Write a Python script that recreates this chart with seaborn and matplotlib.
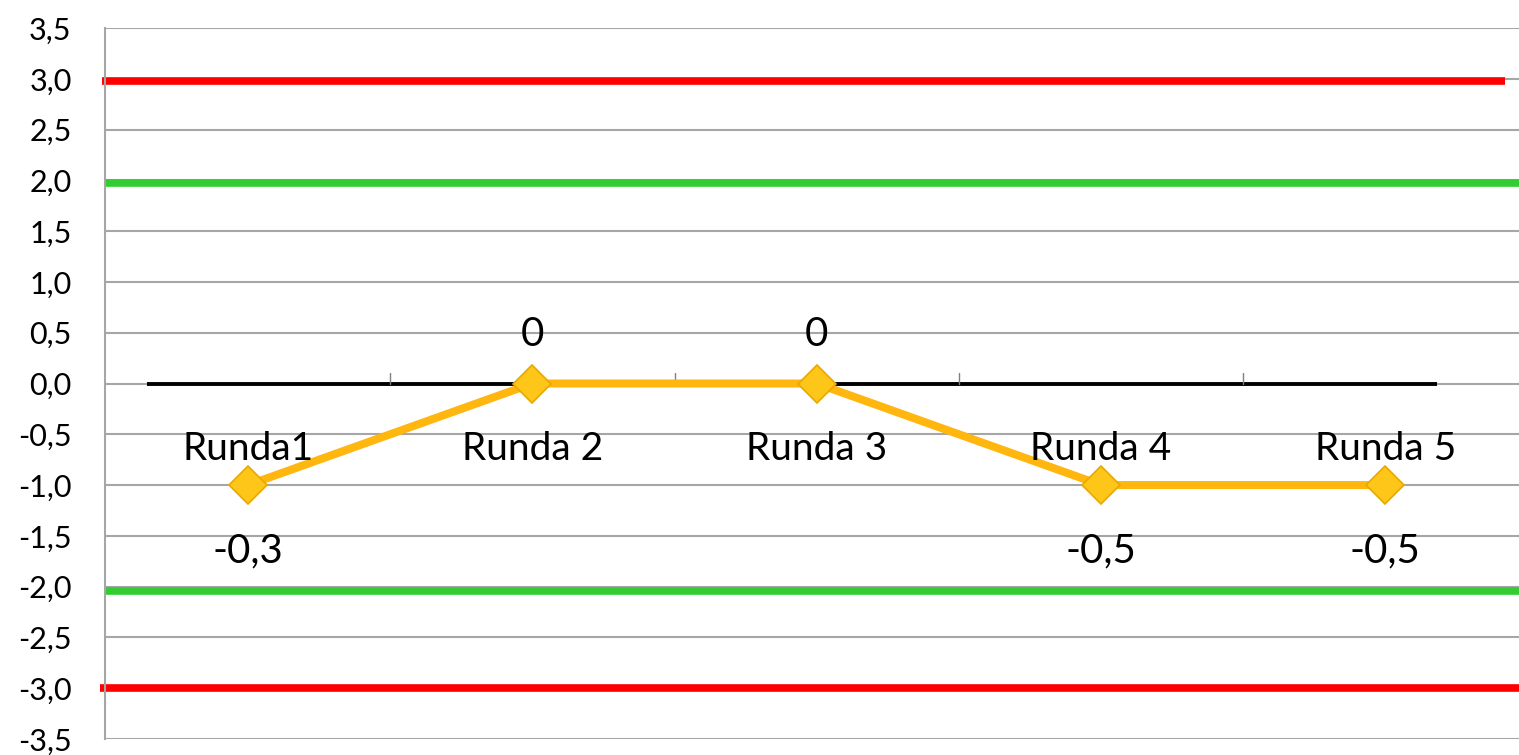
import numpy as np
import pandas as pd
import seaborn as sns
import matplotlib.pyplot as plt
from matplotlib.ticker import FuncFormatter, MultipleLocator

# Data
rounds = ['Runda1', 'Runda 2', 'Runda 3', 'Runda 4', 'Runda 5']
scores = [-1.0, 0.0, 0.0, -1.0, -1.0]
point_labels = ['-0,3', '0', '0', '-0,5', '-0,5']
red_limits = [2.98, -3.0]
green_limits = [1.97, -2.04]

df = pd.DataFrame({'pos': np.arange(len(rounds)), 'score': scores, 'runda': rounds})

sns.set_theme(style='white')
plt.rcParams['font.family'] = ['Lato', 'DejaVu Sans']

fig = plt.figure(figsize=(15.19, 7.55), dpi=100)
ax = fig.add_axes([105 / 1519, 16 / 755, 1414 / 1519, 711 / 755])

ax.set_ylim(-3.5, 3.5)
ax.set_xlim(-0.503, 4.47)
ax.yaxis.set_major_locator(MultipleLocator(0.5))
ax.yaxis.set_major_formatter(FuncFormatter(lambda v, p: f'{v:.1f}'.replace('.', ',').replace('-0,0', '0,0')))
ax.tick_params(axis='y', length=0, pad=24, labelsize=22, labelcolor='black')
ax.set_xticks([])
ax.grid(axis='y', color='#a6a6a6', linewidth=1.5)
ax.set_axisbelow(True)
for s in ['top', 'right', 'bottom']:
    ax.spines[s].set_visible(False)
ax.spines['left'].set_color('#a6a6a6')
ax.spines['left'].set_linewidth(1.5)

# threshold lines
ax.axhline(red_limits[0], xmin=-0.002, xmax=0.990, color='#ff0000', lw=5.5,
           solid_capstyle='butt', clip_on=False, zorder=2)
ax.axhline(red_limits[1], xmin=-0.0035, xmax=1.0, color='#ff0000', lw=5.5,
           solid_capstyle='butt', clip_on=False, zorder=2)
for g in green_limits:
    ax.axhline(g, xmin=0.001, xmax=1.0, color='#33cc33', lw=5.5, solid_capstyle='butt', zorder=2)

# category axis at zero
ax.plot([-0.355, 4.18], [0, 0], color='black', lw=2.8, solid_capstyle='butt', zorder=3)
for b in np.arange(len(rounds) - 1) + 0.5:
    ax.plot([b, b], [0, 0.1], color='#808080', lw=1, zorder=3)

sns.lineplot(data=df, x='pos', y='score', ax=ax, color='#ffb60f', lw=5.8,
             marker='D', markersize=19, markerfacecolor='#ffc61a',
             markeredgecolor='#e8a800', markeredgewidth=1.2, zorder=4)
ax.set_xlabel('')
ax.set_ylabel('')

for i, (r, v, lab) in enumerate(zip(rounds, scores, point_labels)):
    ax.text(i, -0.64, r, ha='center', va='center', fontsize=28, color='black', zorder=5)
    yl = 0.48 if v >= 0 else v - 0.65
    ax.text(i, yl, lab, ha='center', va='center', fontsize=29, color='black', zorder=5)

fig.savefig('out.png', dpi=100)
